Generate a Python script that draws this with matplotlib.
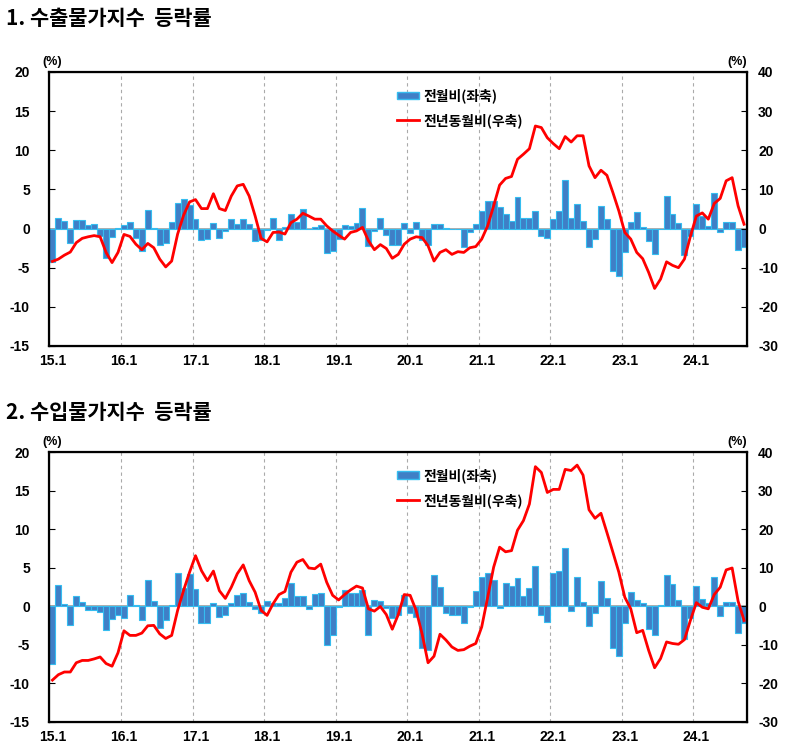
from matplotlib import pyplot as plt
from matplotlib.patches import Patch
from matplotlib.lines import Line2D

plt.rcParams['font.family'] = ['Noto Sans CJK KR', 'DejaVu Sans']
plt.rcParams['axes.unicode_minus'] = False

# 15.1 ~ 24.9, monthly
tick_labels = ['15.1', '16.1', '17.1', '18.1', '19.1', '20.1', '21.1', '22.1', '23.1', '24.1']

# 1. export price index: month-on-month (left axis), year-on-year (right axis)
ex_mom = [-4.3, 1.4, 1.0, -1.9, 1.1, 1.1, 0.5, 0.6, -0.9, -3.8, -1.1, 0.1,
          0.4, 0.8, -1.2, -2.9, 2.4, 0.1, -2.1, -1.8, 0.8, 3.3, 3.8, 3.0,
          1.2, -1.4, -1.3, 0.7, -1.2, -0.3, 1.2, 0.6, 1.2, 0.55, -1.6, -1.5,
          -0.2, 1.3, -1.4, 0.2, 1.8, 0.8, 2.5, -0.1, 0.2, 0.5, -3.1, -2.9,
          -1.3, 0.4, 0.3, 0.7, 2.6, -2.2, -0.3, 1.4, -0.8, -2.1, -2.1, 0.7,
          -0.6, 0.9, -1.5, -2.1, 0.55, 0.6, 0.1, -0.1, -0.1, -2.3, -0.4, 0.6,
          2.3, 3.5, 3.5, 2.7, 1.8, 1.0, 4.0, 1.3, 1.3, 2.2, -0.9, -1.2,
          1.2, 2.2, 6.2, 1.4, 3.1, 1.0, -2.4, -1.3, 2.9, 1.2, -5.4, -6.1,
          -3.0, 0.8, 2.1, 0.2, -1.6, -3.3, 0.0, 4.1, 1.8, 0.7, -3.4, -0.9,
          3.2, 1.6, 0.3, 4.5, -0.5, 0.9, 0.8, -2.8, -2.3]
ex_yoy = [-8.4, -7.8, -6.8, -6.0, -3.6, -2.5, -2.1, -1.8, -2.1, -6.1, -8.7, -6.1,
          -1.5, -2.0, -4.0, -5.4, -3.8, -4.9, -7.8, -9.8, -8.3, -1.4, 3.4, 6.8,
          7.4, 5.1, 5.1, 8.9, 5.1, 4.6, 8.3, 10.9, 11.3, 8.3, 3.2, -2.5,
          -3.4, -1.0, -0.9, -1.4, 1.5, 2.4, 3.9, 3.2, 2.4, 2.4, 0.7, -0.6,
          -1.7, -2.7, -1.0, -0.6, 0.3, -3.1, -5.4, -4.1, -5.1, -7.6, -6.6, -4.0,
          -2.7, -2.1, -2.3, -4.4, -8.3, -6.1, -5.4, -6.6, -5.9, -6.1, -4.9, -4.6,
          -2.7, 0.7, 5.8, 11.1, 12.8, 13.3, 17.7, 19.0, 20.4, 26.2, 25.8, 23.2,
          21.7, 20.4, 23.5, 22.1, 23.7, 23.7, 16.0, 13.0, 14.9, 13.6, 9.2, 4.5,
          -1.0, -2.7, -6.1, -7.7, -11.2, -15.3, -12.9, -8.5, -9.4, -10.0, -7.8, -2.0,
          3.2, 4.0, 2.4, 6.4, 7.7, 12.2, 13.0, 5.8, 1.1]

# 2. import price index
im_mom = [-7.5, 2.8, 0.3, -2.5, 1.25, 0.55, -0.5, -0.5, -0.7, -3.1, -1.7, -1.1,
          -1.5, 1.5, 0.1, -1.85, 3.4, 0.7, -2.8, -1.85, 0.2, 4.3, 2.4, 4.2,
          2.2, -2.2, -2.2, 0.35, -1.4, -1.2, 0.4, 1.5, 1.7, 0.5, -0.35, -0.9,
          0.7, 0.45, 0.45, 1.0, 3.0, 1.25, 1.3, -0.35, 1.6, 1.7, -5.0, -3.7,
          -0.1, 2.15, 1.7, 1.75, 2.15, -3.7, 0.75, 0.6, -0.25, -1.6, -1.2, 1.5,
          -0.9, -1.4, -5.4, -5.7, 4.0, 2.5, -0.9, -1.1, -1.2, -2.2, -0.1, 2.0,
          3.75, 4.35, 3.4, -0.25, 3.0, 2.6, 3.6, 1.25, 2.3, 5.2, -1.1, -2.1,
          4.35, 4.5, 7.5, -0.65, 3.8, 0.55, -2.6, -0.9, 3.3, 1.1, -5.4, -6.5,
          -2.2, 1.85, 0.8, 0.35, -3.0, -3.8, 0.2, 4.1, 2.9, 0.8, -4.3, -1.6,
          2.6, 0.95, 0.45, 3.8, -1.3, 0.55, 0.5, -3.5, -2.2]
im_yoy = [-19.2, -17.8, -17.1, -17.1, -14.7, -14.1, -14.1, -13.7, -13.2, -14.9, -15.6, -12.1,
          -6.4, -7.6, -7.6, -7.0, -5.1, -5.0, -7.2, -8.4, -7.6, -1.1, 4.1, 8.8,
          13.1, 9.2, 6.6, 9.1, 4.0, 2.0, 4.9, 8.4, 10.7, 6.6, 3.6, -1.1,
          -2.4, 0.6, 3.0, 3.8, 8.8, 11.4, 12.1, 9.9, 9.7, 10.9, 6.2, 2.8,
          1.6, 3.0, 4.2, 5.2, 4.7, -0.7, -1.3, -0.1, -2.2, -6.0, -2.2, 3.0,
          2.8, -1.1, -7.2, -14.7, -13.0, -7.3, -8.8, -10.6, -11.5, -11.3, -10.4, -9.7,
          -5.4, 2.3, 10.1, 15.3, 14.1, 14.4, 19.7, 22.2, 26.5, 36.2, 34.7, 29.5,
          30.3, 30.3, 35.5, 35.2, 36.6, 34.0, 25.0, 22.8, 24.1, 19.1, 14.0, 8.8,
          2.3, -0.7, -6.9, -6.3, -11.5, -16.0, -13.6, -9.3, -9.7, -9.9, -8.7, -3.7,
          0.9, -0.3, -0.7, 3.0, 4.9, 9.4, 9.9, 1.3, -3.7]

num_font = ['Liberation Sans Narrow', 'Liberation Sans', 'DejaVu Sans']
bar_face = '#3f7fc6'
bar_edge = '#35bdf0'


def draw_panel(rect, title, title_y, mom, yoy):
    x = list(range(len(mom)))
    ax = fig.add_axes(rect)
    ax.bar(x, mom, width=1.0, color=bar_face, edgecolor=bar_edge, linewidth=0.8, zorder=2)
    ax.axhline(0, color='#a0a0a0', linewidth=1.2, zorder=1)
    ax.set_xlim(-0.5, len(mom) - 0.5)
    ax.set_ylim(-15, 20)
    ax.set_yticks([-15, -10, -5, 0, 5, 10, 15, 20])
    ax.set_yticklabels(['-15', '-10', '-5', '0', '5', '10', '15', '20'],
                       family=num_font, fontweight='bold', fontsize=10)
    ticks = [12 * k for k in range(len(tick_labels))]
    ax.set_xticks(ticks)
    ax.set_xticklabels(tick_labels, family=num_font, fontweight='bold', fontsize=10)
    ax.tick_params(axis='x', length=0, pad=6)
    ax.tick_params(axis='y', direction='in', length=4, pad=14)
    # year separators
    for k in range(1, len(tick_labels)):
        ax.axvline(12 * k - 0.5, color='#aaaaaa', linestyle=(0, (3, 3)), linewidth=0.8, zorder=0)
    for s in ax.spines.values():
        s.set_linewidth(1.6)

    ax2 = ax.twinx()
    ax2.plot(x, yoy, color='#ff0000', linewidth=2.0)
    ax2.set_ylim(-30, 40)
    ax2.set_yticks([-30, -20, -10, 0, 10, 20, 30, 40])
    ax2.set_yticklabels(['-30', '-20', '-10', '0', '10', '20', '30', '40'],
                        family=num_font, fontweight='bold', fontsize=10)
    ax2.tick_params(axis='y', direction='in', length=4, pad=8)

    ax.text(-0.01, 1.015, '(%)', transform=ax.transAxes, ha='left', va='bottom',
            family=num_font, fontweight='bold', fontsize=9)
    ax.text(1.0, 1.015, '(%)', transform=ax.transAxes, ha='right', va='bottom',
            family=num_font, fontweight='bold', fontsize=9)

    handles = [Patch(facecolor=bar_face, edgecolor=bar_edge),
               Line2D([0], [0], color='#ff0000', linewidth=2)]
    ax.legend(handles, ['전월비(좌축)', '전년동월비(우축)'], loc='upper left',
              bbox_to_anchor=(0.48, 0.985), frameon=False, handlelength=1.6,
              handleheight=0.5, handletextpad=0.3, labelspacing=0.7,
              prop={'weight': 'bold', 'size': 10})

    fig.text(0.008, title_y, title, ha='left', va='center', fontsize=15, fontweight='bold')


fig = plt.figure(figsize=(8, 7.52), dpi=100)
draw_panel([0.0618, 0.5399, 0.872, 0.3644], '1. 수출물가지수  등락률', 0.975, ex_mom, ex_yoy)
draw_panel([0.0618, 0.0403, 0.872, 0.3586], '2. 수입물가지수  등락률', 0.452, im_mom, im_yoy)
fig.savefig('out.png', dpi=100)
